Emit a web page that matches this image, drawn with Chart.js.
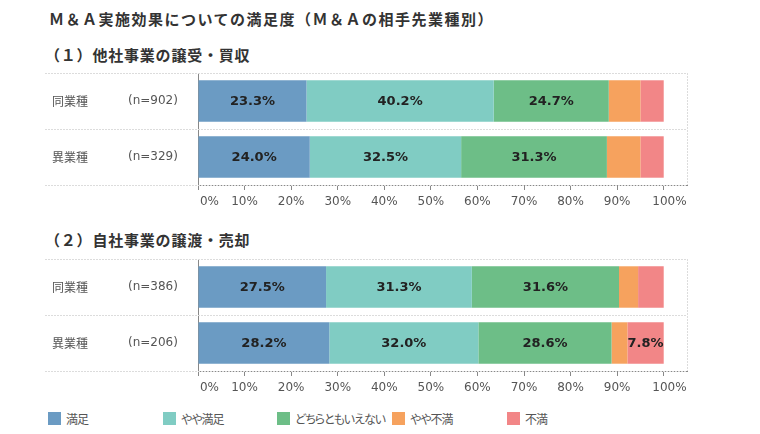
<!DOCTYPE html>
<html lang="ja">
<head>
<meta charset="utf-8">
<script src="https://cdn.jsdelivr.net/npm/chart.js@4.4.1/dist/chart.umd.min.js"></script>
<style>
  html, body { margin: 0; padding: 0; background: #fff; }
  #wrap { position: relative; width: 760px; height: 434px; overflow: hidden; font-family: "Noto Sans CJK JP", "DejaVu Sans", sans-serif; }
  .title { position: absolute; left: 49px; top: 9px; font-size: 15px; line-height: 20px; font-weight: bold; color: #333; letter-spacing: 1.5px; white-space: nowrap; }
  .sub { position: absolute; left: 45px; font-size: 15px; line-height: 20px; font-weight: bold; color: #333; letter-spacing: 0.8px; white-space: nowrap; }
  .box { position: absolute; left: 0; width: 760px; height: 155px; }
  .legend-item { position: absolute; top: 412px; height: 13px; }
  .legend-item .sw { position: absolute; left: 0; top: 0; width: 13px; height: 13px; }
  .legend-item .lb { position: absolute; left: 18px; top: -3px; font-size: 12px; line-height: 20px; color: #555; white-space: nowrap; font-feature-settings: "palt"; letter-spacing: -1px; }
</style>
</head>
<body>
<div id="wrap">
  <div class="title">Ｍ＆Ａ実施効果についての満足度（Ｍ＆Ａの相手先業種別）</div>
  <div class="sub" style="top:45px">（１）他社事業の譲受・買収</div>
  <div class="box" style="top:60px"><canvas id="chart-buy"></canvas></div>
  <div class="sub" style="top:230px">（２）自社事業の譲渡・売却</div>
  <div class="box" style="top:246px"><canvas id="chart-sell"></canvas></div>
  <div id="legend"></div>
</div>
<script>
// --- data ---
const categories = ['同業種', '異業種'];
const seriesNames = ['満足', 'やや満足', 'どちらともいえない', 'やや不満', '不満'];
const seriesColors = ['#6b9bc3', '#80ccc3', '#6dbe87', '#f6a25e', '#f28687'];
const tickValues = [0, 10, 20, 30, 40, 50, 60, 70, 80, 90, 100];

// (1) 他社事業の譲受・買収
const buyN = ['(n=902)', '(n=329)'];
const buySatisfied = [23.3, 24.0];
const buySomewhat = [40.2, 32.5];
const buyNeutral = [24.7, 31.3];
const buySomewhatNot = [6.8, 7.2];
const buyNot = [5.0, 5.0];

// (2) 自社事業の譲渡・売却
const sellN = ['(n=386)', '(n=206)'];
const sellSatisfied = [27.5, 28.2];
const sellSomewhat = [31.3, 32.0];
const sellNeutral = [31.6, 28.6];
const sellSomewhatNot = [4.1, 3.4];
const sellNot = [5.5, 7.8];

const LINE_LEFT = 45;

// draws row labels, dividers, frame, value labels
const decoPlugin = {
    id: 'deco',
    beforeDatasetsDraw(chart) {
        const { ctx, chartArea: a, scales: { y } } = chart;
        ctx.save();
        ctx.strokeStyle = '#dcdcdc';
        ctx.lineWidth = 1;
        ctx.setLineDash([2, 1]);
        const step = y.getPixelForValue(1) - y.getPixelForValue(0);
        const rows = [a.top, y.getPixelForValue(0) + step / 2, a.bottom];
        rows.forEach(py => {
            ctx.beginPath();
            ctx.moveTo(LINE_LEFT, Math.round(py) + 0.5);
            ctx.lineTo(a.right, Math.round(py) + 0.5);
            ctx.stroke();
        });
        ctx.beginPath();
        ctx.moveTo(Math.round(a.right) + 0.5, a.top);
        ctx.lineTo(Math.round(a.right) + 0.5, a.bottom);
        ctx.stroke();

        // row labels
        ctx.setLineDash([]);
        ctx.fillStyle = '#555';
        ctx.textBaseline = 'middle';
        const nLabels = chart.options.plugins.deco.nLabels;
        categories.forEach((c, i) => {
            const py = y.getPixelForValue(i);
            ctx.font = '12px "Noto Sans CJK JP"';
            ctx.fillText(c, 52, py);
            ctx.font = '12px "DejaVu Sans"';
            ctx.fillText(nLabels[i], 128, py);
        });
        ctx.restore();
    },
    afterDatasetsDraw(chart) {
        const { ctx } = chart;
        ctx.save();
        ctx.font = 'bold 13px "DejaVu Sans"';
        ctx.fillStyle = '#222';
        ctx.textAlign = 'center';
        ctx.textBaseline = 'middle';
        chart.data.datasets.forEach((ds, di) => {
            const meta = chart.getDatasetMeta(di);
            meta.data.forEach((bar, i) => {
                const v = ds.data[i];
                if (v < 7.5) return;
                const p = bar.getCenterPoint();
                ctx.fillText(v.toFixed(1) + '%', p.x, p.y + 1);
            });
        });
        ctx.restore();
    }
};

function makeChart(id, series, nLabels) {
    return new Chart(document.getElementById(id), {
        type: 'bar',
        data: {
            labels: categories,
            datasets: series.map((d, i) => ({
                label: seriesNames[i],
                data: d,
                backgroundColor: seriesColors[i],
                borderWidth: 0,
                categoryPercentage: 1,
                barPercentage: 0.74
            }))
        },
        options: {
            indexAxis: 'y',
            responsive: true,
            maintainAspectRatio: false,
            animation: false,
            layout: { padding: { top: 13, right: 73, bottom: 0, left: 0 } },
            plugins: {
                legend: { display: false },
                tooltip: { enabled: false },
                deco: { nLabels }
            },
            scales: {
                x: {
                    stacked: true,
                    min: 0,
                    max: 105,
                    afterBuildTicks: s => { s.ticks = tickValues.map(v => ({ value: v })); },
                    afterFit: s => { s.height = 30; },
                    grid: { drawOnChartArea: false, drawTicks: true, tickLength: 5, color: '#888' },
                    border: { color: '#888' },
                    ticks: {
                        padding: 5,
                        color: '#555',
                        font: { family: 'DejaVu Sans', size: 12 },
                        maxRotation: 0,
                        autoSkip: false,
                        // edge labels sit a little right of their tick, like the original
                        callback: v => (v === 0 ? '      ' : v === 100 ? '   ' : '') + v + '%'
                    }
                },
                y: {
                    stacked: true,
                    afterFit: s => { s.width = 198; },
                    grid: { display: false },
                    border: { color: '#888' },
                    ticks: { display: false }
                }
            }
        },
        plugins: [decoPlugin]
    });
}

makeChart('chart-buy', [buySatisfied, buySomewhat, buyNeutral, buySomewhatNot, buyNot], buyN);
makeChart('chart-sell', [sellSatisfied, sellSomewhat, sellNeutral, sellSomewhatNot, sellNot], sellN);

// legend
const legendX = [48, 163, 277, 392, 507];
const legend = document.getElementById('legend');
seriesNames.forEach((name, i) => {
    const item = document.createElement('div');
    item.className = 'legend-item';
    item.style.left = legendX[i] + 'px';
    item.innerHTML = `<span class="sw" style="background:${seriesColors[i]}"></span><span class="lb">${name}</span>`;
    legend.appendChild(item);
});
</script>
</body>
</html>
